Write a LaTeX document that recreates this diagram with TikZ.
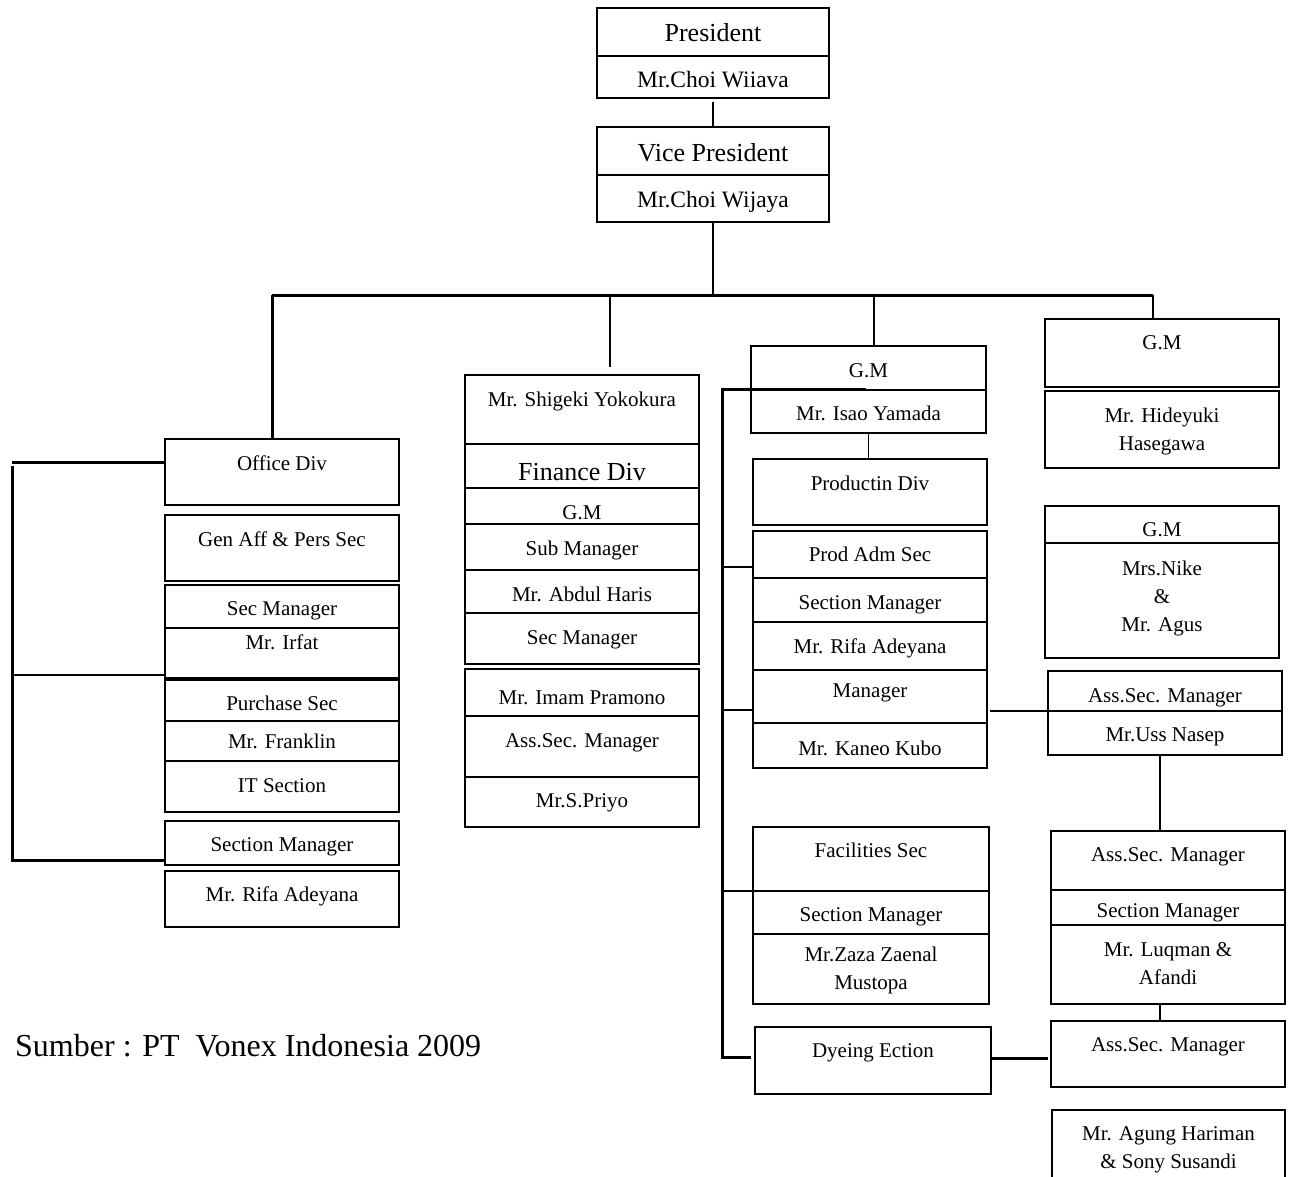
\documentclass[tikz,border=0pt]{standalone}
\usepackage{fontspec}
\setmainfont{Liberation Serif}
\tikzset{
 box/.style={draw, line width=1.3pt, inner sep=0pt, outer sep=0pt, anchor=north west},
 txt/.style={anchor=base, yshift=-7pt, inner sep=0pt, font=\fontsize{21}{28}\selectfont},
 mid/.style={yshift=-1pt, font=\fontsize{23.5}{28}\selectfont},
 big/.style={yshift=-2pt, font=\fontsize{26}{30}\selectfont},
 ml/.style={anchor=center, yshift=6pt, align=center},
 thk/.style={line width=3pt},
 thn/.style={line width=1.4pt},
 med/.style={line width=2.3pt},
}
\newcommand\bx[8][]{%
 \node[box, minimum width={(#5-#3)*1pt}, minimum height={(#6-#4)*1pt}] (#2) at (#3,#4) {};
 \node[txt,#1] (#2t) at ({(#3+#5)/2},#7) {#8};
}
\begin{document}
\begin{tikzpicture}[x=1pt,y=-1pt]
\useasboundingbox (0,0) rectangle (1291,1177);
\clip (0,0) rectangle (1291,1177);
% top
\bx[big]{pres}{597}{8}{829}{56}{33}{President}
\bx[mid]{presn}{597}{56}{829}{98}{80}{Mr.Choi Wiiava}
\bx[big]{vp}{597}{127}{829}{175}{153}{Vice President}
\bx[mid]{vpn}{597}{175}{829}{222}{200}{Mr.Choi Wijaya}
% left column
\bx{off}{165}{439}{399}{505}{463}{Office Div}
\bx{gen}{165}{515}{399}{581}{539}{Gen Aff \& Pers Sec}
\bx{secm}{165}{585}{399}{628}{608}{Sec Manager}
\bx{irf}{165}{628}{399}{678}{642}{Mr. Irfat}
\bx{pur}{165}{680}{399}{721}{703}{Purchase Sec}
\bx{fra}{165}{721}{399}{761}{741}{Mr. Franklin}
\bx{its}{165}{761}{399}{812}{785}{IT Section}
\bx{secmb}{165}{821}{399}{865}{844}{Section Manager}
\bx{rifaa}{165}{871}{399}{927}{894}{Mr. Rifa Adeyana}
% finance column
\bx{shi}{465}{375}{699}{444}{399}{Mr. Shigeki Yokokura}
\bx[big]{fin}{465}{444}{699}{488}{471}{Finance Div}
\bx{fgm}{465}{488}{699}{524}{512}{G.M}
\bx{sub}{465}{524}{699}{570}{548}{Sub Manager}
\bx{abd}{465}{570}{699}{613}{594}{Mr. Abdul Haris}
\bx{fsec}{465}{613}{699}{664}{637}{Sec Manager}
\bx{ima}{465}{669}{699}{716}{697}{Mr. Imam Pramono}
\bx{fass}{465}{716}{699}{777}{740}{Ass.Sec. Manager}
\bx{pri}{465}{777}{699}{827}{800}{Mr.S.Priyo}
% production column
\bx{pgm}{751}{346}{986}{390}{370}{G.M}
\bx{isao}{751}{390}{986}{433}{413}{Mr. Isao Yamada}
\bx{prod}{753}{459}{987}{525}{483}{Productin Div}
\bx{padm}{753}{531}{987}{578}{554}{Prod Adm Sec}
\bx{psm}{753}{578}{987}{622}{602}{Section Manager}
\bx{prifa}{753}{622}{987}{670}{646}{Mr. Rifa Adeyana}
\bx{pman}{753}{670}{987}{723}{690}{Manager}
\bx{kan}{753}{723}{987}{768}{748}{Mr. Kaneo Kubo}
\bx{fac}{753}{827}{989}{891}{850}{Facilities Sec}
\bx{fsm}{753}{891}{989}{934}{914}{Section Manager}
\bx[ml]{zaza}{753}{934}{989}{1004}{969}{Mr.Zaza Zaenal\\Mustopa}
\bx{dye}{755}{1027}{991}{1094}{1050}{Dyeing Ection}
% right column
\bx{rgm}{1045}{319}{1279}{387}{342}{G.M}
\bx[ml]{hid}{1045}{391}{1279}{468}{430}{Mr. Hideyuki\\Hasegawa}
\bx{rgmb}{1045}{506}{1279}{543}{529}{G.M}
\bx[ml]{nik}{1045}{543}{1279}{658}{597}{Mrs.Nike\\\&\\Mr. Agus}
\bx{assa}{1048}{671}{1282}{711}{695}{Ass.Sec. Manager}
\bx{uss}{1048}{711}{1282}{755}{734}{Mr.Uss Nasep}
\bx{assb}{1051}{831}{1285}{890}{854}{Ass.Sec. Manager}
\bx{rsm}{1051}{890}{1285}{925}{910}{Section Manager}
\bx[ml]{luq}{1051}{925}{1285}{1004}{963}{Mr. Luqman \&\\Afandi}
\bx{assc}{1051}{1021}{1285}{1087}{1044}{Ass.Sec. Manager}
\bx[ml]{agu}{1052}{1110}{1285}{1200}{1149}{Mr. Agung Hariman\\\& Sony Susandi}
% connectors top
\draw[line width=2pt] ([yshift=-4pt]presn.south) -- (vp.north);
\coordinate (busL) at (272,295);
\coordinate (busR) at (1153,295);
\coordinate (finTop) at (610,295);
\coordinate (finEnd) at (610,367);
\coordinate (prTop) at (874,295);
\draw[med] (vpn.south) -- (vpn.south |- busL);
\draw[thk] (busL) -- (busR);
\draw[thk] (busL) -- (busL |- off.north);
\draw[line width=2pt] (finTop) -- (finEnd);
\draw[med] (prTop) -- (prTop |- pgm.north);
\draw[med] (busR) -- (busR |- rgm.north);
% left bracket
\coordinate (lba) at (12,462);
\coordinate (lbb) at (12,466);
\coordinate (lbc) at (12,860);
\coordinate (lbd) at (12,675);
\draw[thk] (lba) -- (lba -| off.west);
\draw[thk] (lbb) -- (lbc) -- (lbc -| secmb.west);
\draw[thn] (lbd) -- (lbd -| irf.west);
% production bracket
\coordinate (pba) at (722,389);
\coordinate (pbb) at (866,389);
\coordinate (pbc) at (722,1057);
\coordinate (pbd) at (722,567);
\coordinate (pbe) at (722,710);
\coordinate (pbf) at (722,891);
\draw[thk] (pbb) -- (pba) -- (pbc) -- ([xshift=-4pt]pbc -| dye.west);
\draw[thn] (pbd) -- (pbd -| padm.west);
\draw[thn] (pbe) -- (pbe -| pman.west);
\draw[thn] (pbf) -- (pbf -| fac.west);
\draw[thn] (isao.south) -- (isao.south |- prod.north);
% right connectors
\coordinate (ma) at (990,711);
\draw[med] (ma) -- (ma -| assa.west);
\coordinate (ua) at (1160,755);
\draw[thn] (ua) -- (ua |- assb.north);
\coordinate (la) at (1160,1004);
\draw[thn] (la) -- (la |- assc.north);
\coordinate (da) at (991,1058);
\draw[thk] (da) -- ([xshift=-3pt]da -| assc.west);
% source
\node[anchor=base west, inner sep=0pt, font=\fontsize{32}{36}\selectfont] (src) at (15,1056) {Sumber : PT\ \ Vonex Indonesia 2009};
\end{tikzpicture}
\end{document}
